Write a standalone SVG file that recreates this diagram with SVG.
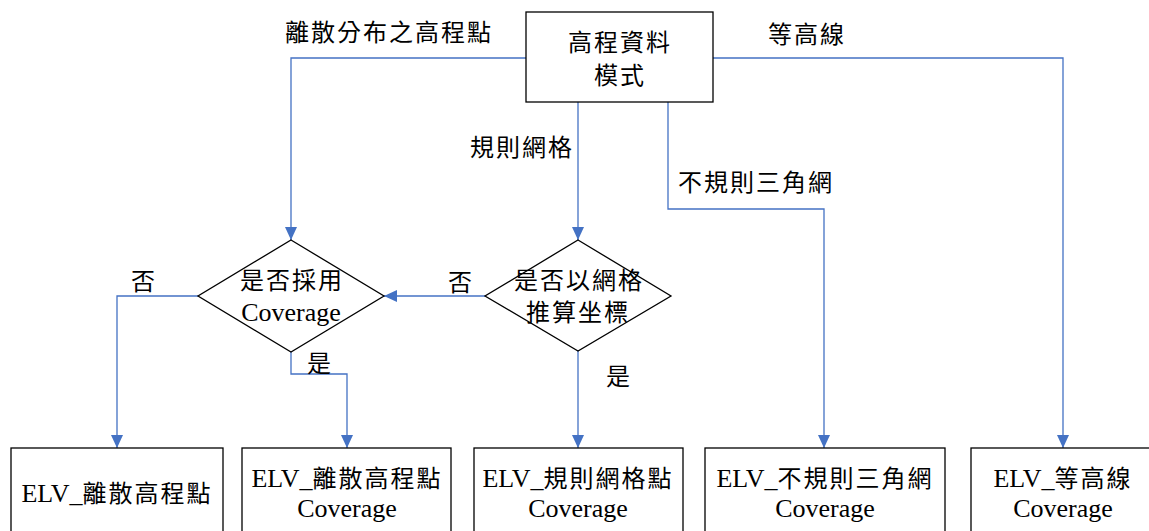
<svg xmlns="http://www.w3.org/2000/svg" width="1149" height="531" viewBox="0 0 1149 531">
  <defs>
    <style>
      .box { fill: #ffffff; stroke: #000000; stroke-width: 1.3; }
      .conn { fill: none; stroke: #4472C4; stroke-width: 1.3; }
      text { font-family: 'Liberation Serif', 'Noto Sans CJK TC', serif; fill: #000000; }
      .cjk { font-size: 24px; letter-spacing: 2px; }
      .lat { font-family: 'Liberation Serif', serif; font-size: 26px; letter-spacing: 0; }
      .mid { text-anchor: middle; }
    </style>
    <marker id="arrow" markerUnits="userSpaceOnUse" markerWidth="13" markerHeight="12" refX="13" refY="6" orient="auto">
      <path d="M0,0 L13,6 L0,12 z" fill="#4472C4"/>
    </marker>
  </defs>
  <rect width="1149" height="531" fill="#ffffff"/>

  <!-- connectors -->
  <g id="connectors">
    <path class="conn" d="M526,58 H291 V240" marker-end="url(#arrow)"/>
    <path class="conn" d="M713,58 H1063 V448" marker-end="url(#arrow)"/>
    <path class="conn" d="M578,102 V240" marker-end="url(#arrow)"/>
    <path class="conn" d="M668,102 V209 H824 V448" marker-end="url(#arrow)"/>
    <path class="conn" d="M485,296 H384" marker-end="url(#arrow)"/>
    <path class="conn" d="M198,296 H117 V448" marker-end="url(#arrow)"/>
    <path class="conn" d="M291,352 V374 H347 V448" marker-end="url(#arrow)"/>
    <path class="conn" d="M578,351 V448" marker-end="url(#arrow)"/>
  </g>

  <!-- connector labels -->
  <g id="labels">
    <text class="cjk" x="285" y="41">離散分布之高程點</text>
    <text class="cjk" x="768" y="43">等高線</text>
    <text class="cjk" x="470" y="156">規則網格</text>
    <text class="cjk" x="678" y="191">不規則三角網</text>
    <text class="cjk mid" x="144" y="290">否</text>
    <text class="cjk mid" x="461" y="291">否</text>
    <text class="cjk mid" x="320" y="372">是</text>
    <text class="cjk mid" x="619" y="385">是</text>
  </g>

  <!-- source node -->
  <g id="node-model">
    <rect class="box" x="526" y="12" width="187" height="90"/>
    <text class="cjk mid" x="620" y="51">高程資料</text>
    <text class="cjk mid" x="620" y="84">模式</text>
  </g>

  <!-- decisions -->
  <g id="node-use-coverage">
    <polygon class="box" points="291,240 384,296 291,352 198,296"/>
    <text class="cjk mid" x="292" y="289">是否採用</text>
    <text class="lat mid" x="291" y="321">Coverage</text>
  </g>
  <g id="node-grid-coords">
    <polygon class="box" points="578,240 671,296 578,351 485,296"/>
    <text class="cjk mid" x="579" y="289">是否以網格</text>
    <text class="cjk mid" x="578" y="321">推算坐標</text>
  </g>

  <!-- outputs -->
  <g id="node-elv-points">
    <rect class="box" x="11" y="448" width="212" height="95"/>
    <text class="mid" x="117" y="502"><tspan class="lat">ELV_</tspan><tspan class="cjk">離散高程點</tspan></text>
  </g>
  <g id="node-elv-points-cov">
    <rect class="box" x="242" y="448" width="209" height="95"/>
    <text class="mid" x="347" y="487"><tspan class="lat">ELV_</tspan><tspan class="cjk">離散高程點</tspan></text>
    <text class="lat mid" x="347" y="517">Coverage</text>
  </g>
  <g id="node-elv-grid-cov">
    <rect class="box" x="474" y="448" width="209" height="95"/>
    <text class="mid" x="578" y="487"><tspan class="lat">ELV_</tspan><tspan class="cjk">規則網格點</tspan></text>
    <text class="lat mid" x="578" y="517">Coverage</text>
  </g>
  <g id="node-elv-tin-cov">
    <rect class="box" x="705" y="448" width="240" height="95"/>
    <text class="mid" x="825" y="487"><tspan class="lat">ELV_</tspan><tspan class="cjk">不規則三角網</tspan></text>
    <text class="lat mid" x="825" y="517">Coverage</text>
  </g>
  <g id="node-elv-contour-cov">
    <rect class="box" x="971" y="448" width="190" height="95"/>
    <text class="mid" x="1063" y="487"><tspan class="lat">ELV_</tspan><tspan class="cjk">等高線</tspan></text>
    <text class="lat mid" x="1063" y="517">Coverage</text>
  </g>
</svg>
